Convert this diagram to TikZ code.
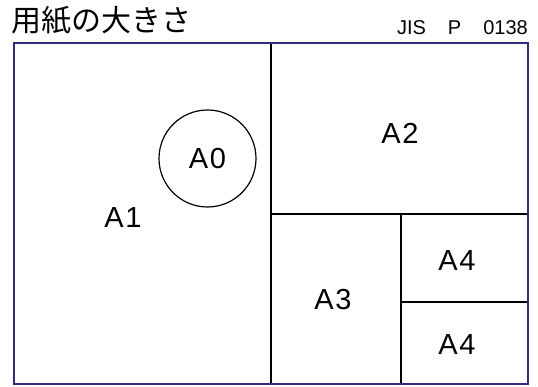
\documentclass[tikz,border=0pt]{standalone}
\usepackage{fontspec}
\setmainfont{Liberation Sans}
\newfontfamily\jpfont{Noto Sans CJK JP}
\newfontfamily\labfont[LetterSpace=6]{Liberation Sans}
\definecolor{frame}{RGB}{45,45,125}
\begin{document}
\begin{tikzpicture}[x=1pt,y=-1pt,
  lab/.style={inner sep=0pt,font=\labfont\fontsize{29}{29}\selectfont}]
\useasboundingbox (0,0) rectangle (538,387);
\node[anchor=west,inner sep=0pt,font=\jpfont\fontsize{30}{30}\selectfont] (title) at (11,20) {用紙の大きさ};
\node[anchor=base east,inner sep=0pt,font=\fontsize{20}{20}\selectfont] (jis) at (528,35) {JIS\hspace{22pt}P\hspace{22pt}0138};
%
\draw[line width=1.2pt](271,43)--(271,384);
\draw[line width=1.2pt](271,214)--(528,214);
\draw[line width=1.2pt](401,214)--(401,384);
\draw[line width=1.2pt](401,302)--(528,302);
\draw[frame,line width=2pt](14,43) rectangle (528,384);
%
\node[draw,circle,line width=1.2pt,minimum size=97pt,lab] (a0) at (207.5,158.5) {A0};
\node[lab] (a1) at (123,218) {A1};
\node[lab] (a2) at (400,133) {A2};
\node[lab] (a3) at (333,300) {A3};
\node[lab] (a4top) at (457,261) {A4};
\node[lab] (a4bot) at (457,345) {A4};
\end{tikzpicture}
\end{document}
